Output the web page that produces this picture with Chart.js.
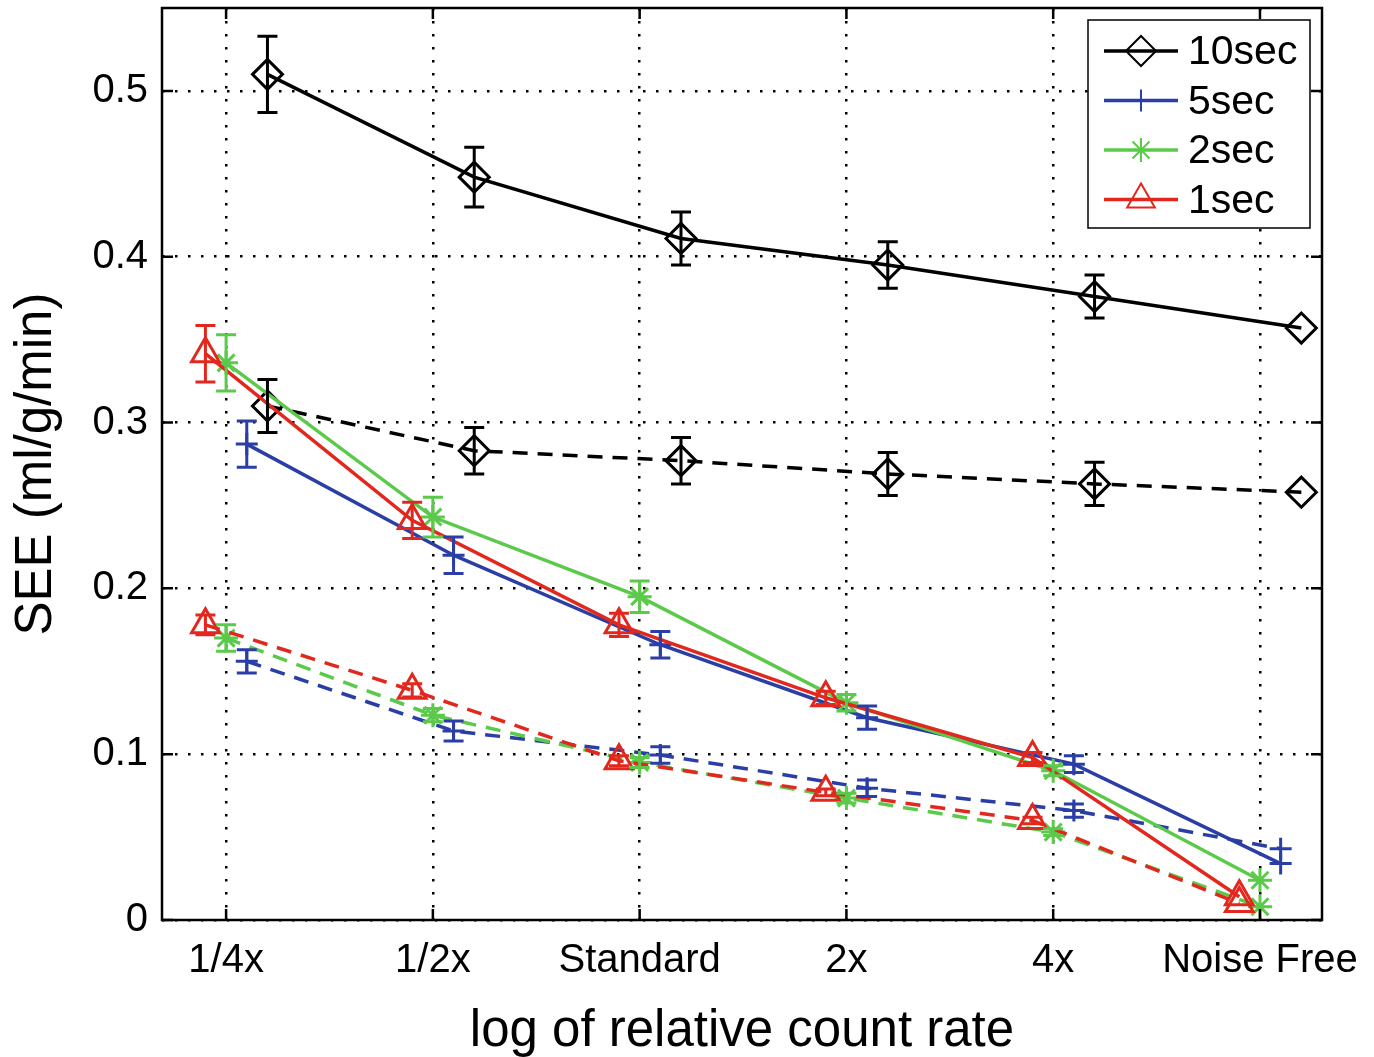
<!DOCTYPE html>
<html>
<head>
<meta charset="utf-8">
<script src="https://cdn.jsdelivr.net/npm/chart.js@4.4.0/dist/chart.umd.min.js"></script>
<style>
  html, body { margin: 0; padding: 0; background: #fff; }
</style>
</head>
<body>
<canvas id="seeChart" width="1374" height="1057"></canvas>
<script>
// Category labels on the x axis
const rateLabels = ['1/4x', '1/2x', 'Standard', '2x', '4x', 'Noise Free'];

// SEE values (solid and dashed curves for each frame length)
const sec10Solid = [0.510, 0.448, 0.411, 0.395, 0.376, 0.357];
const sec10Dashed = [0.310, 0.283, 0.277, 0.269, 0.263, 0.258];
const sec5Solid = [0.287, 0.220, 0.166, 0.122, 0.094, 0.034];
const sec5Dashed = [0.156, 0.114, 0.0995, 0.0795, 0.066, 0.043];
const sec2Solid = [0.336, 0.243, 0.195, 0.131, 0.090, 0.024];
const sec2Dashed = [0.170, 0.1235, 0.095, 0.0735, 0.053, 0.008];
const sec1Solid = [0.3415, 0.241, 0.178, 0.134, 0.098, 0.014];
const sec1Dashed = [0.178, 0.1385, 0.096, 0.077, 0.060, 0.010];

// Half-length of the error bars
const sec10SolidErr = [0.023, 0.018, 0.016, 0.014, 0.013, 0];
const sec10DashedErr = [0.016, 0.014, 0.014, 0.013, 0.013, 0];
const sec5SolidErr = [0.014, 0.011, 0.008, 0.007, 0.005, 0];
const sec5DashedErr = [0.007, 0.006, 0.005, 0.005, 0.004, 0];
const sec2SolidErr = [0.017, 0.012, 0.0095, 0.005, 0.003, 0];
const sec2DashedErr = [0.008, 0.004, 0.003, 0.003, 0.002, 0];
const sec1SolidErr = [0.017, 0.011, 0.007, 0.004, 0.003, 0];
const sec1DashedErr = [0.006, 0.004, 0.003, 0.002, 0.002, 0];

const FONT = '"Liberation Sans", Arial, Helvetica, sans-serif';

function makeSeries(label, values, errors, offset, color, pointStyle, radius, dashed) {
  return {
    label: label,
    data: values.map((v, i) => ({ x: i + offset, y: v })),
    errors: errors,
    showLine: true,
    borderColor: color,
    backgroundColor: 'rgba(0,0,0,0)',
    borderWidth: 3.5,
    borderDash: dashed ? [15, 10] : [],
    pointStyle: pointStyle,
    pointRadius: radius,
    pointHoverRadius: radius,
    pointBorderColor: color,
    pointBackgroundColor: 'rgba(0,0,0,0)',
    pointBorderWidth: 3,
    tension: 0,
    fill: false,
    clip: false,
    inLegend: !dashed,
  };
}

const BLACK = '#000000';
const BLUE = '#2b3ea5';
const GREEN = '#5bc94a';
const RED = '#e2281e';

const datasets = [
  makeSeries('1sec', sec1Solid, sec1SolidErr, -0.1, RED, 'triangle', 16, false),
  makeSeries('1sec dashed', sec1Dashed, sec1DashedErr, -0.1, RED, 'triangle', 16, true),
  makeSeries('2sec', sec2Solid, sec2SolidErr, 0, GREEN, 'star', 12, false),
  makeSeries('2sec dashed', sec2Dashed, sec2DashedErr, 0, GREEN, 'star', 12, true),
  makeSeries('5sec', sec5Solid, sec5SolidErr, 0.1, BLUE, 'cross', 11, false),
  makeSeries('5sec dashed', sec5Dashed, sec5DashedErr, 0.1, BLUE, 'cross', 11, true),
  makeSeries('10sec', sec10Solid, sec10SolidErr, 0.2, BLACK, 'rectRot', 15, false),
  makeSeries('10sec dashed', sec10Dashed, sec10DashedErr, 0.2, BLACK, 'rectRot', 15, true),
];

// Vertical error bars with caps
const errorBars = {
  id: 'errorBars',
  afterDatasetsDraw(chart) {
    const ctx = chart.ctx;
    const xs = chart.scales.x;
    const ys = chart.scales.y;
    chart.data.datasets.forEach((ds) => {
      ctx.save();
      ctx.strokeStyle = ds.borderColor;
      ctx.lineWidth = 3;
      ds.data.forEach((p, i) => {
        const e = ds.errors[i];
        if (!e) return;
        const px = xs.getPixelForValue(p.x);
        const top = ys.getPixelForValue(p.y + e);
        const bot = ys.getPixelForValue(p.y - e);
        ctx.beginPath();
        ctx.moveTo(px, top);
        ctx.lineTo(px, bot);
        ctx.moveTo(px - 10, top);
        ctx.lineTo(px + 10, top);
        ctx.moveTo(px - 10, bot);
        ctx.lineTo(px + 10, bot);
        ctx.stroke();
      });
      ctx.restore();
    });
  }
};

// MATLAB-like box, inward ticks and legend
const frameAndLegend = {
  id: 'frameAndLegend',
  afterDraw(chart) {
    const ctx = chart.ctx;
    const a = chart.chartArea;
    const xs = chart.scales.x;
    const ys = chart.scales.y;
    ctx.save();
    ctx.strokeStyle = '#000';
    ctx.lineWidth = 2.5;
    ctx.strokeRect(a.left, a.top, a.right - a.left, a.bottom - a.top);
    ctx.beginPath();
    ys.ticks.forEach((t) => {
      const py = ys.getPixelForValue(t.value);
      ctx.moveTo(a.left, py); ctx.lineTo(a.left + 11, py);
      ctx.moveTo(a.right, py); ctx.lineTo(a.right - 11, py);
    });
    xs.ticks.forEach((t) => {
      const px = xs.getPixelForValue(t.value);
      ctx.moveTo(px, a.bottom); ctx.lineTo(px, a.bottom - 11);
      ctx.moveTo(px, a.top); ctx.lineTo(px, a.top + 11);
    });
    ctx.stroke();

    // legend box
    const items = chart.data.datasets.filter((d) => d.inLegend).reverse();
    const boxW = 222, boxH = 208;
    const bx = a.right - 12 - boxW;
    const by = a.top + 12;
    ctx.fillStyle = '#fff';
    ctx.fillRect(bx, by, boxW, boxH);
    ctx.lineWidth = 1.5;
    ctx.strokeRect(bx, by, boxW, boxH);
    ctx.font = '41px ' + FONT;
    ctx.textBaseline = 'middle';
    items.forEach((ds, i) => {
      const ly = by + 31 + i * 49.5;
      ctx.strokeStyle = ds.borderColor;
      ctx.lineWidth = 3.5;
      ctx.beginPath();
      ctx.moveTo(bx + 16, ly);
      ctx.lineTo(bx + 90, ly);
      ctx.stroke();
      ctx.fillStyle = 'rgba(0,0,0,0)';
      ctx.lineWidth = 2;
      Chart.helpers.drawPoint(ctx, {
        pointStyle: ds.pointStyle,
        radius: ds.pointRadius,
        rotation: 0,
        borderWidth: 2,
      }, bx + 53, ly);
      ctx.fillStyle = '#000';
      ctx.fillText(ds.label, bx + 100, ly + 2);
    });
    ctx.restore();
  }
};

const ctx = document.getElementById('seeChart').getContext('2d');
new Chart(ctx, {
  type: 'scatter',
  data: { datasets: datasets },
  plugins: [errorBars, frameAndLegend],
  options: {
    responsive: false,
    animation: false,
    devicePixelRatio: 1,
    layout: { autoPadding: false, padding: { left: 0, right: 52, top: 8, bottom: 0 } },
    plugins: {
      legend: { display: false },
      tooltip: { enabled: false },
    },
    scales: {
      x: {
        type: 'linear',
        min: -0.31,
        max: 5.3,
        afterFit: (scale) => {
          scale.height = 137;
          scale.paddingLeft = 0;
          scale.paddingRight = 0;
        },
        ticks: {
          stepSize: 1,
          includeBounds: false,
          padding: 17,
          color: '#000',
          font: { family: FONT, size: 40 },
          maxRotation: 0,
          autoSkip: false,
          callback: (v) => rateLabels[v] !== undefined ? rateLabels[v] : '',
        },
        grid: { color: '#000', lineWidth: 2.5, drawTicks: false },
        border: { display: false, dash: [2.5, 10.5] },
        title: {
          display: true,
          text: 'log of relative count rate',
          color: '#000',
          font: { family: FONT, size: 51 },
          padding: { top: 0, bottom: -6 },
        },
      },
      y: {
        min: 0,
        max: 0.55,
        afterFit: (scale) => {
          scale.width = 162;
          scale.paddingTop = 0;
          scale.paddingBottom = 0;
        },
        ticks: {
          stepSize: 0.1,
          includeBounds: false,
          padding: 14,
          color: '#000',
          font: { family: FONT, size: 40 },
          callback: (v) => v === 0 ? '0' : v.toFixed(1),
        },
        grid: { color: '#000', lineWidth: 2.5, drawTicks: false },
        border: { display: false, dash: [2.5, 10.5] },
        title: {
          display: true,
          text: 'SEE (ml/g/min)',
          color: '#000',
          font: { family: FONT, size: 51 },
          padding: { top: 6, bottom: 0 },
        },
      },
    },
  },
});
</script>
</body>
</html>
